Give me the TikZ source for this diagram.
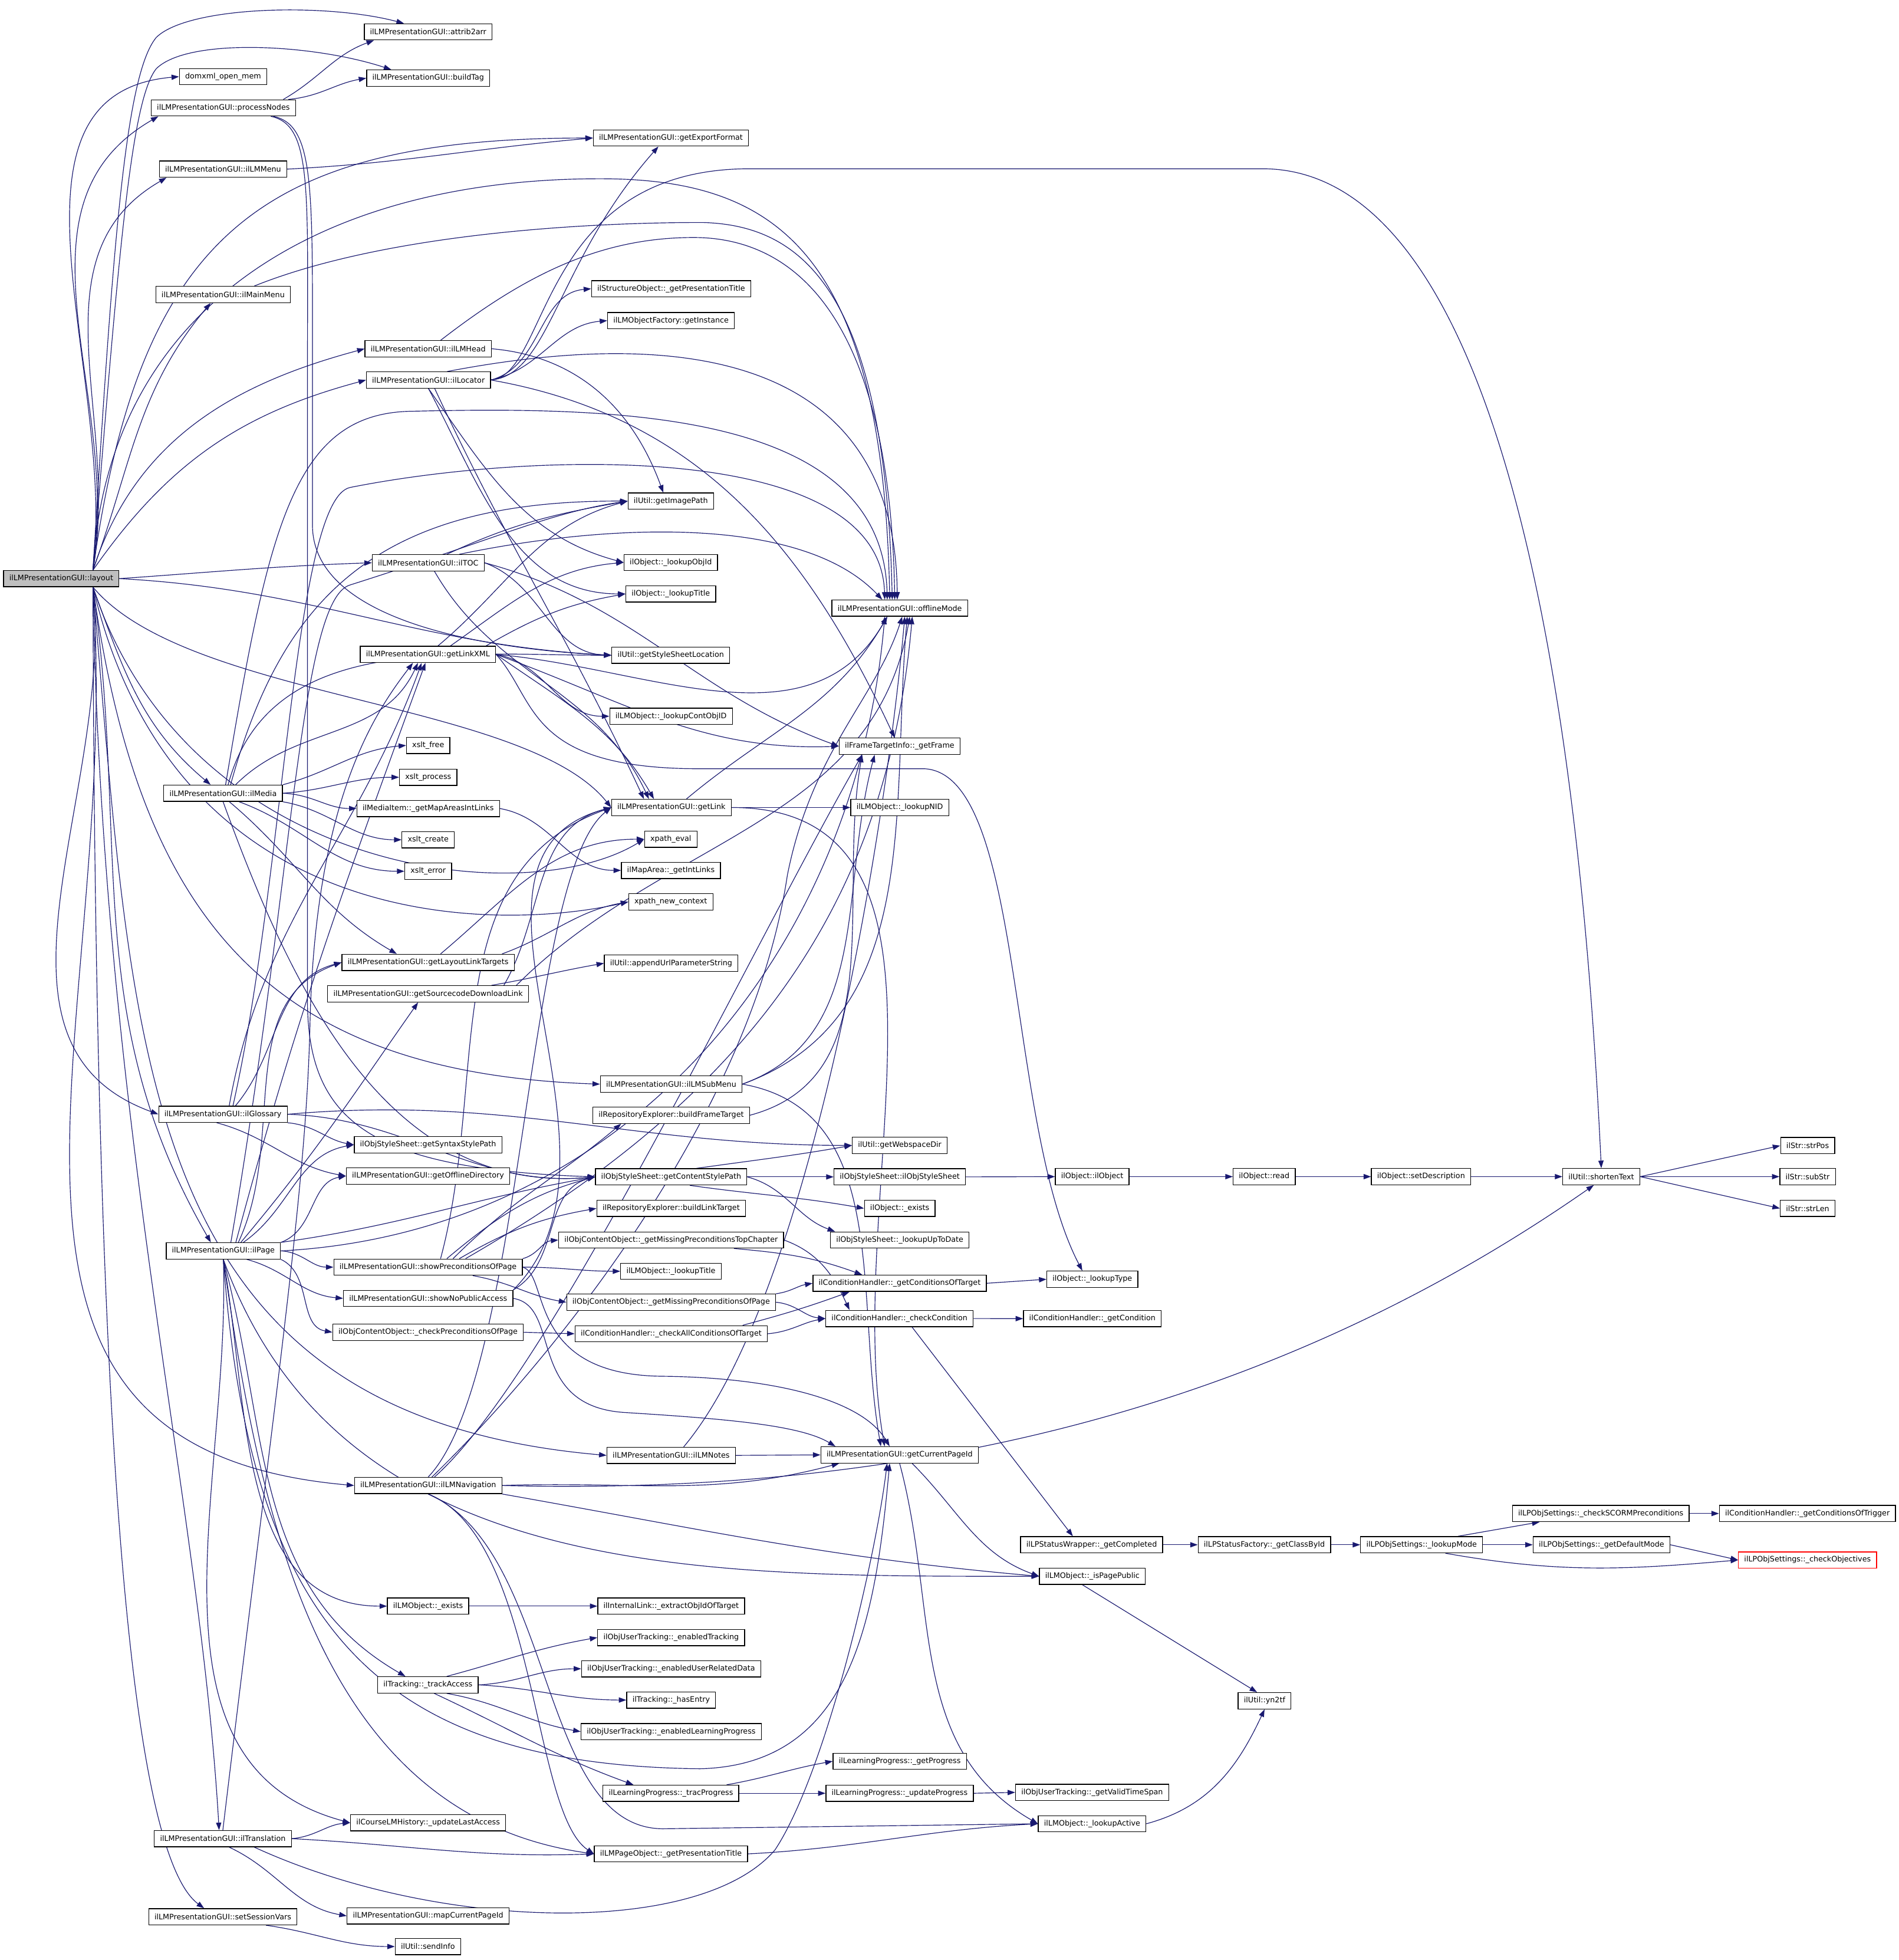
\documentclass[tikz,border=0pt]{standalone}
\usepackage{fontspec}
\setmainfont{DejaVu Sans}
\usetikzlibrary{arrows.meta,backgrounds}
\definecolor{edgeblue}{HTML}{191970}
\definecolor{lgray}{HTML}{BFBFBF}
\tikzset{
  n/.style={draw=black, fill=white, line width=0.6pt, inner xsep=4.6pt, inner ysep=0pt, minimum height=13pt, font=\fontsize{6}{7}\selectfont},
  e/.style={draw=edgeblue, line width=0.55pt, -{Triangle[length=6pt,width=4.2pt]}}
}
\begin{document}
\begin{tikzpicture}[x=1pt,y=-1pt]
\useasboundingbox (0,0) rectangle (1519,1568);
% column 0/1
\node[n,fill=lgray] (L) at (49,462.9) {ilLMPresentationGUI::layout};
\node[n] (dom) at (178.5,61.3) {domxml\_open\_mem};
\node[n] (pn) at (178.7,86.3) {ilLMPresentationGUI::processNodes};
\node[n] (lmm) at (178.5,135.3) {ilLMPresentationGUI::ilLMMenu};
\node[n] (mm) at (178.5,235.6) {ilLMPresentationGUI::ilMainMenu};
\node[n] (med) at (178.5,634.6) {ilLMPresentationGUI::ilMedia};
\node[n] (glo) at (178.4,891.4) {ilLMPresentationGUI::ilGlossary};
\node[n] (page) at (178.7,1000.7) {ilLMPresentationGUI::ilPage};
\node[n] (tr) at (178.3,1470.9) {ilLMPresentationGUI::ilTranslation};
\node[n] (ssv) at (178.3,1533.4) {ilLMPresentationGUI::setSessionVars};
% column 2
\node[n] (a2a) at (342.6,25.5) {ilLMPresentationGUI::attrib2arr};
\node[n] (bt) at (342.6,62.5) {ilLMPresentationGUI::buildTag};
\node[n] (head) at (342.6,279) {ilLMPresentationGUI::ilLMHead};
\node[n] (loc) at (342.8,304) {ilLMPresentationGUI::ilLocator};
\node[n] (toc) at (342.6,450.2) {ilLMPresentationGUI::ilTOC};
\node[n] (glx) at (342.4,523.5) {ilLMPresentationGUI::getLinkXML};
\node[n] (xf) at (342.6,596.3) {xslt\_free};
\node[n] (xp) at (342.6,621.8) {xslt\_process};
\node[n] (gmail) at (342.6,646.8) {ilMediaItem::\_getMapAreasIntLinks};
\node[n] (xc) at (342.6,671.8) {xslt\_create};
\node[n] (xe) at (342.6,697) {xslt\_error};
\node[n] (gllt) at (342.5,769.9) {ilLMPresentationGUI::getLayoutLinkTargets};
\node[n] (gsdl) at (342.5,795.1) {ilLMPresentationGUI::getSourcecodeDownloadLink};
\node[n] (gsp) at (342.5,915.8) {ilObjStyleSheet::getSyntaxStylePath};
\node[n] (god) at (342.5,940.8) {ilLMPresentationGUI::getOfflineDirectory};
\node[n] (spp) at (342.5,1013.7) {ilLMPresentationGUI::showPreconditionsOfPage};
\node[n] (snpa) at (342.6,1038.7) {ilLMPresentationGUI::showNoPublicAccess};
\node[n] (cpop) at (342.5,1065.8) {ilObjContentObject::\_checkPreconditionsOfPage};
\node[n] (nav) at (342.6,1188.4) {ilLMPresentationGUI::ilLMNavigation};
\node[n] (lex) at (342.5,1284.9) {ilLMObject::\_exists};
\node[n] (trk) at (342.4,1347.9) {ilTracking::\_trackAccess};
\node[n] (ula) at (342.5,1458.2) {ilCourseLMHistory::\_updateLastAccess};
\node[n] (mcp) at (342.5,1532.7) {ilLMPresentationGUI::mapCurrentPageId};
\node[n] (si) at (342.4,1557.2) {ilUtil::sendInfo};
% column 3
\node[n] (gef) at (536.8,110.4) {ilLMPresentationGUI::getExportFormat};
\node[n] (spt) at (537,231) {ilStructureObject::\_getPresentationTitle};
\node[n] (fac) at (536.9,256.5) {ilLMObjectFactory::getInstance};
\node[n] (gip) at (536.7,400.9) {ilUtil::getImagePath};
\node[n] (loi) at (536.7,450) {ilObject::\_lookupObjId};
\node[n] (lot) at (536.7,475.1) {ilObject::\_lookupTitle};
\node[n] (gssl) at (536.7,524.2) {ilUtil::getStyleSheetLocation};
\node[n] (lcoi) at (536.9,573) {ilLMObject::\_lookupContObjID};
\node[n] (gl) at (537.2,646) {ilLMPresentationGUI::getLink};
\node[n] (xev) at (536.7,671.3) {xpath\_eval};
\node[n] (gil) at (536.8,696.3) {ilMapArea::\_getIntLinks};
\node[n] (xnc) at (536.7,721.5) {xpath\_new\_context};
\node[n] (aups) at (537,770.6) {ilUtil::appendUrlParameterString};
\node[n] (sub) at (537,867.3) {ilLMPresentationGUI::ilLMSubMenu};
\node[n] (bft) at (537,892.2) {ilRepositoryExplorer::buildFrameTarget};
\node[n] (gcsp) at (537,941.5) {ilObjStyleSheet::getContentStylePath};
\node[n] (blt) at (537,966.7) {ilRepositoryExplorer::buildLinkTarget};
\node[n] (mptc) at (537,992) {ilObjContentObject::\_getMissingPreconditionsTopChapter};
\node[n] (lmlt) at (536.8,1017) {ilLMObject::\_lookupTitle};
\node[n] (mpop) at (537,1041.8) {ilObjContentObject::\_getMissingPreconditionsOfPage};
\node[n] (cacot) at (537,1067) {ilConditionHandler::\_checkAllConditionsOfTarget};
\node[n] (notes) at (537,1164.3) {ilLMPresentationGUI::ilLMNotes};
\node[n] (eoit) at (537,1284.9) {ilInternalLink::\_extractObjIdOfTarget};
\node[n] (etr) at (537,1310) {ilObjUserTracking::\_enabledTracking};
\node[n] (eurd) at (537,1335) {ilObjUserTracking::\_enabledUserRelatedData};
\node[n] (he) at (537,1360) {ilTracking::\_hasEntry};
\node[n] (elp) at (537,1385.3) {ilObjUserTracking::\_enabledLearningProgress};
\node[n] (tp) at (536.8,1434.6) {ilLearningProgress::\_tracProgress};
\node[n] (pgpt) at (536.8,1483.1) {ilLMPageObject::\_getPresentationTitle};
% column 4
\node[n] (om) at (719.9,486.5) {ilLMPresentationGUI::offlineMode};
\node[n] (gf) at (719.8,597) {ilFrameTargetInfo::\_getFrame};
\node[n] (nid) at (719.9,646) {ilLMObject::\_lookupNID};
\node[n] (gwd) at (719.9,916.3) {ilUtil::getWebspaceDir};
\node[n] (oss) at (719.9,941.5) {ilObjStyleSheet::ilObjStyleSheet};
\node[n] (oex) at (719.9,966.7) {ilObject::\_exists};
\node[n] (lutd) at (719.9,992) {ilObjStyleSheet::\_lookupUpToDate};
\node[n] (gcot) at (719.8,1026.6) {ilConditionHandler::\_getConditionsOfTarget};
\node[n] (chk) at (719.7,1054.8) {ilConditionHandler::\_checkCondition};
\node[n] (gcpi) at (719.8,1163.9) {ilLMPresentationGUI::getCurrentPageId};
\node[n] (gp) at (719.9,1409) {ilLearningProgress::\_getProgress};
\node[n] (up) at (719.8,1434.6) {ilLearningProgress::\_updateProgress};
% column 5
\node[n] (oo) at (873.9,941.3) {ilObject::ilObject};
\node[n] (lty) at (874,1023.4) {ilObject::\_lookupType};
\node[n] (gcond) at (874,1054.9) {ilConditionHandler::\_getCondition};
\node[n] (gc) at (873.4,1235.8) {ilLPStatusWrapper::\_getCompleted};
\node[n] (ipp) at (874,1261) {ilLMObject::\_isPagePublic};
\node[n] (gvts) at (873.8,1433.9) {ilObjUserTracking::\_getValidTimeSpan};
\node[n] (la) at (873.8,1459) {ilLMObject::\_lookupActive};
% column 6-9
\node[n] (ord) at (1011.5,941.3) {ilObject::read};
\node[n] (gcbi) at (1011.6,1235.8) {ilLPStatusFactory::\_getClassById};
\node[n] (yn) at (1011.8,1360.6) {ilUtil::yn2tf};
\node[n] (sdesc) at (1137,941.3) {ilObject::setDescription};
\node[n] (lm) at (1137.4,1235.8) {ilLPObjSettings::\_lookupMode};
\node[n] (st) at (1281.2,941.3) {ilUtil::shortenText};
\node[n] (cscorm) at (1280.8,1210.8) {ilLPObjSettings::\_checkSCORMPreconditions};
\node[n] (gdm) at (1281.4,1235.8) {ilLPObjSettings::\_getDefaultMode};
\node[n] (spos) at (1446.3,916.5) {ilStr::strPos};
\node[n] (ssub) at (1446.3,941.3) {ilStr::subStr};
\node[n] (slen) at (1446.3,966.7) {ilStr::strLen};
\node[n] (gcotr) at (1446.1,1210.8) {ilConditionHandler::\_getConditionsOfTrigger};
\node[n,draw=red] (cobj) at (1446.2,1248) {ilLPObjSettings::\_checkObjectives};

\begin{scope}[on background layer]
% layout
\draw[e] (L.15) .. controls (90,200) and (100,60) .. (125,30) .. controls (150,5) and (260,2) .. ([xshift=32pt]a2a.north west);
\draw[e] (L.15) .. controls (95,200) and (105,80) .. (125,55) .. controls (150,30) and (250,35) .. ([xshift=20pt]bt.north west);
\draw[e] (L.15) to[out=83,in=185] (dom.west);
\draw[e] (L.15) to[out=81,in=-150] ([xshift=6pt]pn.south west);
\draw[e] (L.15) to[out=82,in=180,looseness=1.3] (gef.west);
\draw[e] (L.15) to[out=80,in=-150] ([xshift=6pt]lmm.south west);
\draw[e] (L.15) .. controls (85,250) and (250,143) .. (480,143) .. controls (620,143) and (706,200) .. ([xshift=-8pt]om.north);
\draw[e] (L.15) to[out=70,in=-130] ([xshift=-10pt]mm.south);
\draw[e] (L.15) to[out=72,in=195] (head.west);
\draw[e] (L.15) to[out=55,in=195] (loc.west);
\draw[e] (L.east) to[out=4,in=182] (toc.west);
\draw[e] (L.east) to[out=-3,in=177] (gssl.west);
\draw[e] (L.-15) .. controls (150,560) and (420,560) .. (gl.west);
\draw[e] (L.-15) .. controls (150,700) and (420,730) .. (xev.west);
\draw[e] (L.-15) .. controls (140,750) and (400,745) .. (xnc.west);
\draw[e] (L.-15) to[out=-70,in=140] ([xshift=-10pt]med.north);
\draw[e] (L.-15) to[out=-82,in=178,looseness=1.2] (sub.west);
\draw[e] (L.-15) to[out=-84,in=160] (glo.west);
\draw[e] (L.-15) to[out=-82,in=120] ([xshift=-10pt]page.north);
\draw[e] (L.-15) to[out=-85,in=175,looseness=1.2] (notes.west);
\draw[e] (L.-15) to[out=-86,in=175,looseness=1.2] (nav.west);
\draw[e] (L.-15) .. controls (82,900) and (160,1200) .. ([xshift=-3pt]tr.north);
\draw[e] (L.-15) .. controls (76,1100) and (100,1480) .. ([xshift=-15pt]ssv.north);
% processNodes
\draw[e] ([xshift=-10pt]pn.north east) to[out=30,in=-160] ([xshift=8pt]a2a.south west);
\draw[e] ([xshift=-6pt]pn.north east) to[out=5,in=190] (bt.west);
\draw[e] ([xshift=-20pt]pn.south east) .. controls (250,100) and (246,150) .. (246,300) -- (246,800) .. controls (246,900) and (300,935) .. (gcsp.west);
\draw[e] ([xshift=-18pt]pn.south east) .. controls (252,100) and (250,150) .. (250,300) -- (250,420) .. controls (250,500) and (400,520) .. (gssl.west);
% menus
\draw[e] (lmm.east) to[out=3,in=185] (gef.west);
\draw[e] ([xshift=25pt]mm.north) .. controls (300,190) and (450,178) .. (562,178) .. controls (640,180) and (708,230) .. ([xshift=-6pt]om.north);
\draw[e] ([xshift=10pt]head.north) .. controls (420,220) and (480,190) .. (555,190) .. controls (640,190) and (712,260) .. ([xshift=-4pt]om.north);
\draw[e] (head.east) to[out=-5,in=110] ([xshift=-6pt]gip.north);
% locator
\draw[e] (loc.east) .. controls (440,300) and (445,210) .. ([xshift=-10pt]gef.south);
\draw[e] (loc.east) to[out=15,in=185] (spt.west);
\draw[e] (loc.east) to[out=12,in=185] (fac.west);
\draw[e] (loc.east) .. controls (440,300) and (430,135) .. (600,135) -- (1010,135) .. controls (1230,135) and (1270,700) .. (st.north);
\draw[e] ([xshift=15pt]loc.north) .. controls (500,270) and (716,260) .. ([xshift=-2pt]om.north);
\draw[e] (loc.east) to[out=-10,in=115] ([xshift=-4pt]gf.north);
\draw[e] (loc.south) to[out=-55,in=165] (loi.west);
\draw[e] (loc.south) to[out=-62,in=180] (lot.west);
\draw[e] ([xshift=5pt]loc.south) to[out=-65,in=115] ([xshift=-22pt]gl.north);
% toc
\draw[e] ([xshift=15pt]toc.north) to[out=25,in=190] (gip.west);
\draw[e] ([xshift=25pt]toc.north) .. controls (480,420) and (640,410) .. ([xshift=-14pt]om.north);
\draw[e] (toc.east) to[out=-20,in=178] (gssl.west);
\draw[e] (toc.east) to[out=-15,in=160] (gf.west);
\draw[e] ([xshift=5pt]toc.south) to[out=-60,in=115] ([xshift=-18pt]gl.north);
% getLinkXML
\draw[e] ([xshift=8pt]glx.north) to[out=40,in=195] (gip.west);
\draw[e] ([xshift=18pt]glx.north) to[out=35,in=185] (loi.west);
\draw[e] ([xshift=-8pt]glx.north east) to[out=30,in=190] (lot.west);
\draw[e] (glx.east) to[out=-5,in=-120] ([xshift=-10pt]om.south);
\draw[e] (glx.east) to[out=-10,in=180] (lcoi.west);
\draw[e] (glx.east) to[out=-35,in=120] ([xshift=-14pt]gl.north);
\draw[e] (glx.east) to[out=-20,in=182] (gf.west);
\draw[e] (glx.east) .. controls (430,560) and (420,615) .. (560,615) -- (740,615) .. controls (820,620) and (805,900) .. ([xshift=-8pt]lty.north);
% ilMedia
\draw[e] ([xshift=10pt]med.north) to[out=45,in=-115] ([xshift=-8pt]glx.south);
\draw[e] (med.north east) to[out=15,in=185] (xf.west);
\draw[e] (med.east) to[out=4,in=180] (xp.west);
\draw[e] (med.east) to[out=-2,in=180] (gmail.west);
\draw[e] (med.south east) to[out=-10,in=180] (xc.west);
\draw[e] ([xshift=-35pt]med.south east) to[out=-20,in=180] (xe.west);
\draw[e] ([xshift=5pt]med.south) to[out=-40,in=150] ([xshift=-25pt]gllt.north);
\draw[e] ([xshift=2pt]med.north) .. controls (215,420) and (235,330) .. (330,329) .. controls (500,325) and (706,330) .. ([xshift=-10pt]om.north);
\draw[e] ([xshift=4pt]med.north) to[out=75,in=180] (gssl.west);
\draw[e] ([xshift=6pt]med.north) .. controls (225,480) and (300,400) .. (gip.west);
\draw[e] (med.south) to[out=-70,in=185] (gcsp.west);
% ilGlossary
\draw[e] ([xshift=5pt]glo.north) to[out=80,in=-110] ([xshift=-5pt]glx.south);
\draw[e] ([xshift=10pt]glo.north) to[out=50,in=195] (gllt.west);
\draw[e] (glo.south east) to[out=-5,in=170] (gsp.west);
\draw[e] ([xshift=-5pt]glo.south) to[out=-15,in=170] (god.west);
\draw[e] (glo.east) to[out=5,in=180] (gwd.west);
\draw[e] (glo.east) to[out=-2,in=185] (gcsp.west);
\draw[e] ([xshift=8pt]glo.north) .. controls (228,700) and (235,400) .. (280,390) .. controls (420,362) and (704,350) .. ([xshift=-12pt]om.north);
% ilPage
\draw[e] ([xshift=10pt]page.north) to[out=75,in=-110] ([xshift=-2pt]glx.south);
\draw[e] ([xshift=12pt]page.north) to[out=65,in=200] (gllt.west);
\draw[e] ([xshift=14pt]page.north) to[out=50,in=-125] ([xshift=-8pt]gsdl.south);
\draw[e] ([xshift=16pt]page.north) to[out=35,in=190] (gsp.west);
\draw[e] (page.north east) to[out=20,in=190] (god.west);
\draw[e] (page.north east) to[out=8,in=190] (gcsp.west);
\draw[e] (page.east) to[out=3,in=-95] ([xshift=-12pt]om.south);
\draw[e] ([xshift=6pt]page.north) .. controls (235,700) and (240,480) .. (280,468) .. controls (400,430) and (440,410) .. (gip.west);
\draw[e] (page.east) to[out=-3,in=180] (spp.west);
\draw[e] (page.-20) to[out=-15,in=175] (snpa.west);
\draw[e] (page.south east) to[out=-25,in=170] (cpop.west);
\draw[e] (page.south) to[out=-80,in=180] (lex.west);
\draw[e] (page.south) to[out=-75,in=150] ([xshift=-18pt]trk.north);
\draw[e] (page.south) to[out=-88,in=165] (ula.west);
\draw[e] (page.south) to[out=-82,in=172] (pgpt.west);
\draw[e] (page.south) .. controls (200,1300) and (300,1412) .. (560,1415) .. controls (680,1412) and (700,1300) .. ([xshift=-8pt]gcpi.south);
\draw[e] (page.south) to[out=-70,in=180] (ipp.west);
% ilTranslation
\draw[e] (tr.north) .. controls (222,1100) and (245,950) .. (248,820) .. controls (252,640) and (300,570) .. ([xshift=-12pt]glx.south);
\draw[e] (tr.east) to[out=5,in=185] (ula.west);
\draw[e] (tr.east) to[out=-3,in=182] (pgpt.west);
\draw[e] ([xshift=5pt]tr.south) to[out=-25,in=170] (mcp.west);
\draw[e] ([xshift=-30pt]tr.south east) .. controls (350,1545) and (560,1550) .. (620,1480) .. controls (660,1420) and (700,1250) .. ([xshift=-10pt]gcpi.south);
\draw[e] ([xshift=-25pt]ssv.south east) to[out=-8,in=180] (si.west);
% ilLMNavigation
\draw[e] (nav.north) .. controls (420,1100) and (420,700) .. (gl.west);
\draw[e] ([xshift=3pt]nav.north) .. controls (430,1100) and (600,900) .. (630,700) .. controls (650,600) and (700,560) .. ([xshift=2pt]om.south);
\draw[e] ([xshift=5pt]nav.north) .. controls (440,1100) and (600,760) .. ([xshift=-30pt]gf.south);
\draw[e] (nav.east) to[out=2,in=-165] ([xshift=15pt]gcpi.south west);
\draw[e] (nav.east) .. controls (700,1196) and (1000,1140) .. ([xshift=-6pt]st.south);
\draw[e] (nav.south east) to[out=-10,in=175] (ipp.west);
\draw[e] (nav.south) .. controls (430,1230) and (425,1450) .. (pgpt.west);
\draw[e] (nav.south) .. controls (445,1240) and (430,1462) .. (530,1463) -- (la.west);
% notes, submenu, frame target
\draw[e] (notes.east) -- (gcpi.west);
\draw[e] ([xshift=10pt]notes.north) to[out=50,in=-95,looseness=0.6] ([xshift=4pt]om.south);
\draw[e] (sub.east) to[out=20,in=-95] ([xshift=6pt]om.south);
\draw[e] (sub.east) to[out=20,in=-105] ([xshift=-20pt]gf.south);
\draw[e] (sub.east) to[out=-10,in=100] ([xshift=-15pt]gcpi.north);
\draw[e] (bft.east) to[out=15,in=-100] ([xshift=-30pt]gf.south);
% getLink
\draw[e] (gl.east) -- (nid.west);
\draw[e] ([xshift=12pt]gl.north) to[out=40,in=-120] ([xshift=-10pt]om.south);
\draw[e] (gl.east) to[out=0,in=100] ([xshift=-12pt]gcpi.north);
% layout link targets, sourcecode
\draw[e] ([xshift=10pt]gllt.north) to[out=40,in=180] (xev.west);
\draw[e] ([xshift=-10pt]gllt.north east) to[out=20,in=190] (xnc.west);
\draw[e] ([xshift=-30pt]gsdl.north east) to[out=10,in=190] (aups.west);
\draw[e] ([xshift=-10pt]gsdl.north east) to[out=45,in=-100] ([xshift=8pt]om.south);
\draw[e] ([xshift=-20pt]gsdl.north east) to[out=60,in=195] (gl.west);
\draw[e] (gmail.east) to[out=-10,in=180] (gil.west);
% preconditions
\draw[e] (spp.east) to[out=0,in=180] (lmlt.west);
\draw[e] (spp.north east) to[out=15,in=185] (mptc.west);
\draw[e] ([xshift=-40pt]spp.south east) to[out=-10,in=170] (mpop.west);
\draw[e] (spp.east) .. controls (440,1020) and (420,1100) .. (530,1101) .. controls (620,1102) and (690,1120) .. ([xshift=-8pt]gcpi.north);
\draw[e] ([xshift=25pt]spp.north) to[out=30,in=190] (blt.west);
\draw[e] ([xshift=20pt]spp.north) to[out=45,in=-140] ([xshift=-40pt]bft.south);
\draw[e] ([xshift=15pt]spp.north) to[out=40,in=195] (gcsp.west);
\draw[e] ([xshift=10pt]spp.north) to[out=75,in=200] (gl.west);
\draw[e] ([xshift=30pt]spp.north) to[out=30,in=-95] ([xshift=10pt]om.south);
\draw[e] (snpa.east) .. controls (450,1045) and (420,1125) .. (500,1130) .. controls (580,1135) and (640,1140) .. ([xshift=12pt]gcpi.north west);
\draw[e] (snpa.north east) to[out=45,in=195] (gl.west);
\draw[e] (snpa.north east) to[out=30,in=195] (gcsp.west);
\draw[e] (cpop.east) -- (cacot.west);
\draw[e] ([xshift=-40pt]mptc.south east) to[out=-5,in=160] ([xshift=-30pt]gcot.north);
\draw[e] (mptc.east) to[out=-20,in=115] ([xshift=-40pt]chk.north);
\draw[e] (mpop.north east) to[out=8,in=190] (gcot.west);
\draw[e] (mpop.east) to[out=-5,in=175] (chk.west);
\draw[e] ([xshift=-20pt]cacot.north east) to[out=15,in=-160] ([xshift=-40pt]gcot.south);
\draw[e] (cacot.east) to[out=5,in=190] (chk.west);
\draw[e] (gcot.east) -- (lty.west);
\draw[e] (chk.east) -- (gcond.west);
\draw[e] ([xshift=10pt]chk.south) -- ([xshift=-15pt]gc.north);
% content style path
\draw[e] ([xshift=20pt]gcsp.north) to[out=8,in=190] (gwd.west);
\draw[e] (gcsp.east) -- (oss.west);
\draw[e] ([xshift=15pt]gcsp.south) to[out=-8,in=170] (oex.west);
\draw[e] (gcsp.east) to[out=-15,in=160] ([xshift=4pt]lutd.north west);
\draw[e] (oss.east) -- (oo.west);
\draw[e] (oo.east) -- (ord.west);
\draw[e] (ord.east) -- (sdesc.west);
\draw[e] (sdesc.east) -- (st.west);
\draw[e] (st.east) -- (spos.west);
\draw[e] (st.east) -- (ssub.west);
\draw[e] (st.east) -- (slen.west);
% tracking
\draw[e] (lex.east) -- (eoit.west);
\draw[e] ([xshift=15pt]trk.north) to[out=15,in=190] (etr.west);
\draw[e] (trk.east) to[out=3,in=180] (eurd.west);
\draw[e] (trk.east) to[out=-3,in=180] (he.west);
\draw[e] ([xshift=15pt]trk.south) to[out=-10,in=170] (elp.west);
\draw[e] ([xshift=5pt]trk.south) to[out=-25,in=160] ([xshift=-30pt]tp.north);
\draw[e] ([xshift=-10pt]tp.north east) to[out=10,in=190] (gp.west);
\draw[e] (tp.east) -- (up.west);
\draw[e] (up.east) -- (gvts.west);
\draw[e] (pgpt.east) to[out=3,in=183] (la.west);
\draw[e] ([xshift=10pt]gcpi.south) to[out=-45,in=160] (ipp.west);
\draw[e] (gcpi.south) to[out=-75,in=150] (la.west);
\draw[e] ([xshift=-8pt]ipp.south) -- ([xshift=-6pt]yn.north);
\draw[e] (la.east) to[out=15,in=-115] (yn.south);
% learning progress settings
\draw[e] (gc.east) -- (gcbi.west);
\draw[e] (gcbi.east) -- (lm.west);
\draw[e] ([xshift=-20pt]lm.north east) -- ([xshift=22pt]cscorm.south west);
\draw[e] (lm.east) -- (gdm.west);
\draw[e] ([xshift=-30pt]lm.south east) to[out=-10,in=185] (cobj.west);
\draw[e] (cscorm.east) -- (gcotr.west);
\draw[e] (gdm.east) -- (cobj.west);
\end{scope}
\end{tikzpicture}
\end{document}
